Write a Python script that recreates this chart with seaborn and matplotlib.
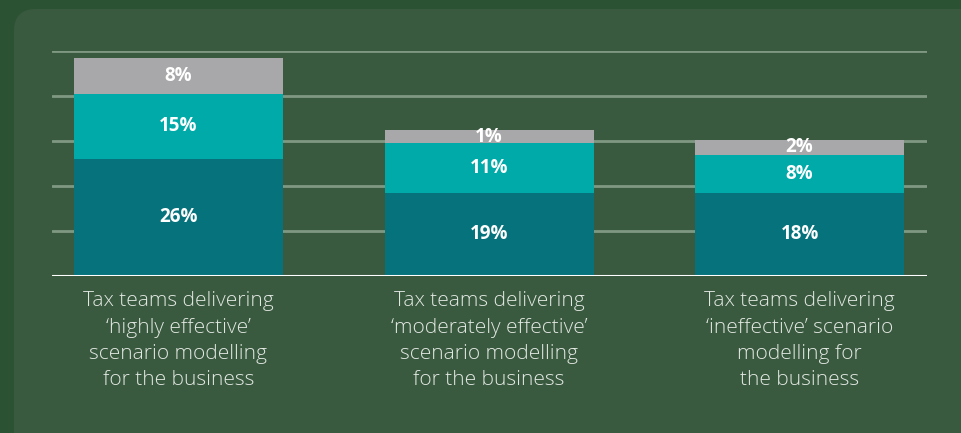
#!/usr/bin/env python3
# Stacked bars: scenario modelling effectiveness of tax teams

import matplotlib
matplotlib.use("Agg")
import matplotlib.pyplot as plt
import pandas as pd
import seaborn as sns
from matplotlib import font_manager
from matplotlib.patches import FancyBboxPatch

# data (heights) and the printed labels
categories = [
    "Tax teams delivering\n\u2018highly effective\u2019\nscenario modelling\nfor the business",
    "Tax teams delivering\n\u2018moderately effective\u2019\nscenario modelling\nfor the business",
    "Tax teams delivering\n\u2018ineffective\u2019 scenario\nmodelling for\nthe business",
]
base_vals = [26, 18.5, 18.5]
mid_vals = [14.5, 11, 8.5]
top_vals = [8, 3, 3.3]
base_labels = ["26%", "19%", "18%"]
mid_labels = ["15%", "11%", "8%"]
top_labels = ["8%", "1%", "2%"]
grid_ticks = [10, 20, 30, 40, 50]

OUTER = "#2c5234"
PANEL = "#3a5a40"
DARK = "#06737c"
TEAL = "#00aaa9"
GREY = "#a8a8aa"
GRID = "#7f9882"


def stretch_num(s):
    if isinstance(s, (int, float)):
        return s
    return {"ultra-condensed": 100, "extra-condensed": 200, "condensed": 300,
            "semi-condensed": 400, "normal": 500, "semi-expanded": 600,
            "expanded": 700}.get(str(s), 500)


def weight_num(w):
    if isinstance(w, (int, float)):
        return w
    return font_manager.weight_dict.get(str(w), 400)


def open_sans(weight, size):
    """Pick a non-condensed Open Sans file closest to the wanted weight."""
    cands = [f for f in font_manager.fontManager.ttflist
             if f.name == "Open Sans" and f.style == "normal"
             and "condensed" not in f.fname.lower()
             and stretch_num(f.stretch) >= 450]
    if not cands:
        return font_manager.FontProperties(family="DejaVu Sans", weight=weight, size=size)
    best = min(cands, key=lambda f: abs(weight_num(f.weight) - weight))
    return font_manager.FontProperties(fname=best.fname, size=size)


sns.set_theme(style="white")
plt.rcParams["font.family"] = ["Open Sans", "DejaVu Sans"]

W, H = 961, 433
fig = plt.figure(figsize=(W / 100, H / 100), dpi=100, facecolor=OUTER)

# background panel with rounded corner
bg = fig.add_axes([0, 0, 1, 1])
bg.set_xlim(0, W)
bg.set_ylim(H, 0)
bg.axis("off")
bg.add_patch(FancyBboxPatch((14, 9), W + 40, H + 40,
                            boxstyle="round,pad=0,rounding_size=22",
                            fc=PANEL, ec="none"))

left, right, base_y, top_y = 52, 927, 276, 51
ax = fig.add_axes([left / W, (H - base_y) / H, (right - left) / W, (base_y - top_y) / H])
ax.set_facecolor("none")

df = pd.DataFrame({
    "cat": categories,
    "base": base_vals,
    "mid": mid_vals,
    "top": top_vals,
})
df["lvl2"] = df["base"] + df["mid"]
df["lvl3"] = df["lvl2"] + df["top"]

bar_w = 0.673
for col, c in [("lvl3", GREY), ("lvl2", TEAL), ("base", DARK)]:
    sns.barplot(data=df, x="cat", y=col, color=c, saturation=1, width=bar_w,
                linewidth=0, edgecolor="none", ax=ax, zorder=3)

for g in grid_ticks:
    ax.axhline(g, color=GRID, lw=2, zorder=1)
ax.axhline(0, color="white", lw=2.2, zorder=4)

val_fp = open_sans(700, 13.5)
for i in range(len(categories)):
    b, m, t = base_vals[i], mid_vals[i], top_vals[i]
    kw = dict(ha="center", va="center", color="white", fontproperties=val_fp, zorder=5)
    ax.text(i, b / 2, base_labels[i], **kw)
    ax.text(i, b + m / 2, mid_labels[i], **kw)
    ax.text(i, b + m + t / 2, top_labels[i], **kw)

ax.set_xlim(-0.407, 2.41)
ax.set_ylim(0, 50)
ax.set_yticks([])
ax.set_xlabel("")
ax.set_ylabel("")
ax.tick_params(axis="x", length=0, pad=11)
ax.set_xticks(range(len(categories)))
ax.set_xticklabels(categories, fontproperties=open_sans(300, 15),
                   color="#e2e8e2", linespacing=1.42, va="top")
sns.despine(ax=ax, left=True, bottom=True)

fig.savefig("out.png", dpi=100, facecolor=OUTER)
